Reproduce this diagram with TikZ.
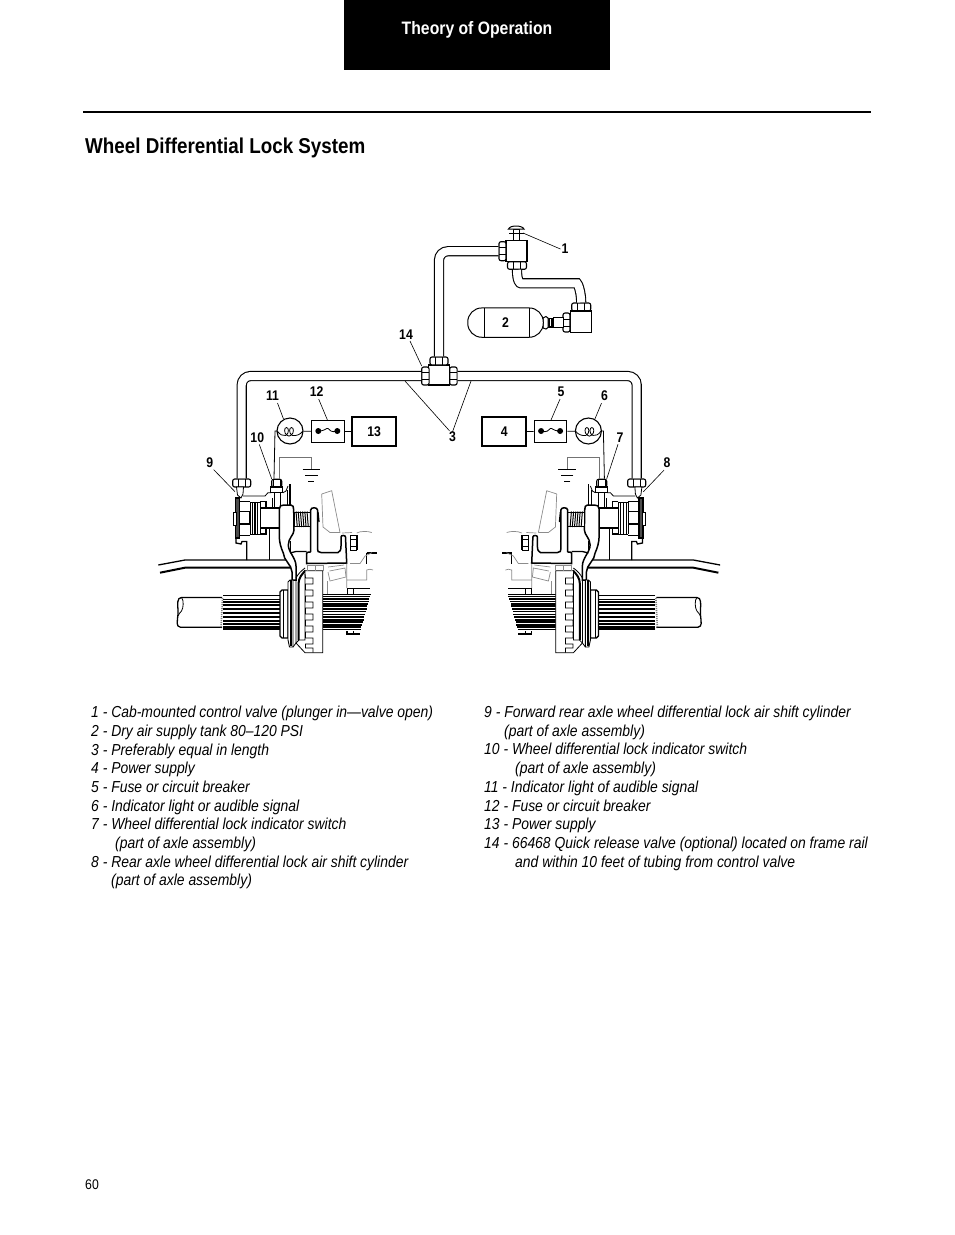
\documentclass[tikz,border=0pt]{standalone}
\usepackage{fontspec}
\setmainfont[FakeStretch=0.875]{Liberation Sans}
\tikzset{
  ln/.style={line width=0.8pt,black},
  med/.style={line width=1.3pt,black},
  thk/.style={line width=2pt,black},
  gry/.style={line width=0.7pt,black!45},
  pipe/.style={double,double distance=8pt,line width=1.1pt,rounded corners=9pt},
  nut/.style={draw,line width=1.1pt,fill=white,rounded corners=2pt,inner sep=0pt},
  nutH/.style={nut,path picture={
    \draw[line width=.8pt] ([xshift=-3.5pt]path picture bounding box.north) -- ([xshift=-3.5pt]path picture bounding box.south);
    \draw[line width=.8pt] ([xshift=3.5pt]path picture bounding box.north) -- ([xshift=3.5pt]path picture bounding box.south);}},
  nutV/.style={nut,path picture={
    \draw[line width=.8pt] ([yshift=-3.5pt]path picture bounding box.west) -- ([yshift=-3.5pt]path picture bounding box.east);
    \draw[line width=.8pt] ([yshift=3.5pt]path picture bounding box.west) -- ([yshift=3.5pt]path picture bounding box.east);}},
  body/.style={draw,line width=1.1pt,fill=white,inner sep=0pt},
  num/.style={font=\bfseries\fontsize{14}{14}\selectfont,inner sep=0pt},
  lead/.style={line width=0.6pt},
  legend/.style={font=\itshape\fontsize{15.9}{16}\selectfont,anchor=base west,inner sep=0pt},
}
% #1 prefix, #2 tee end anchor, #3 box text
\newcommand{\halfside}[3]{%
  % pipe end
  \node[nutH,minimum width=18pt,minimum height=8pt] (#1nut) at (241.7,483) {};
  \draw[pipe] (#1nut.north) |- (#2);
  % electrical
  \node[draw,circle,line width=1.1pt,minimum size=26pt,inner sep=0pt] (#1lamp) at (290,431) {};
  \node[draw,line width=1.1pt,minimum width=32.6pt,minimum height=21.6pt,inner sep=0pt] (#1fuse) at (328,431.5) {};
  \node[draw,line width=1.7pt,minimum width=44pt,minimum height=29pt,inner sep=0pt,num] (#1box) at (374.2,431.3) {#3};
  \draw[ln] (#1lamp) -- (#1fuse);
  \draw[ln] (#1fuse) -- (#1box);
  \fill (318.3,431) circle (3pt) (337.3,431) circle (3pt);
  \draw[ln] (318.3,431) .. controls (326,431) and (326,427.5) .. (328,428.5) .. controls (330,430) and (331,433) .. (337.3,431);
  % filament
  \draw[ln] (277.3,431) .. controls (280,435) and (283,436) .. (286,435.5);
  \draw[ln] (286.5,435) .. controls (284,433) and (284,427.5) .. (286.5,427.5) .. controls (289,427.5) and (289,433) .. (286.5,435) .. controls (288,436.5) and (290,436.5) .. (291.5,435) .. controls (289,433) and (289,427.5) .. (291.5,427.5) .. controls (294,427.5) and (294,433) .. (291.5,435);
  \draw[ln] (292,435.5) .. controls (296,436) and (300,435) .. (303,431);
  \node[nutH,minimum width=10pt,minimum height=8pt] (#1sw) at (276.7,483.2) {};
  \draw[ln] (#1lamp.center) ++(-12.7,0) -- (275,431) -- (#1sw.north -| 274,0);
  \draw[line width=1pt,black!55] (#1sw.north -| 279.3,0) -- (279.3,457.3) -- (311,457.3) -- (311,469.3);
  \draw[med] (302.7,469.3) -- (320,469.3);
  \draw[ln] (305,475) -- (317.7,475);
  \draw[ln] (308,481.7) -- (314.3,481.7);
  \coordinate (#1a9) at (235,491.7);
  \coordinate (#1a10) at (271.7,478.8);
  \coordinate (#1a11) at (283.5,419);
  \coordinate (#1a12) at (327.7,420.7);
  % switch body
  \draw[body] (270.7,487) rectangle (282.7,492.3);
  \draw[ln,fill=white] (274,492.3) rectangle (280,507);
  \draw[ln] (243,496) -- (265,496) -- (268,492.7) -- (271,492.7) (283,492.7) -- (286,491) -- (288,486);
  \draw[med] (290,484) -- (290,506);
  \draw[ln] (287,490) -- (287,506);
  \draw[ln,fill=white] (236.5,487) -- (237.5,495) -- (241,498) -- (243,494) -- (243.5,487) -- cycle;
  % air cylinder
  \draw[line width=1.2pt,fill=black!70] (235.5,498) rectangle (239.5,538);
  \draw[ln,fill=white] (233,512) rectangle (236,525);
  \draw[ln] (240,501) -- (250,501) (240,535) -- (250,535);
  \draw[med] (240,511.7) -- (250,511.7) (240,524) -- (250,524);
  \draw[med] (250,511.7) -- (250,524);
  \draw[ln] (250,502) -- (250,534) (252,502) -- (252,534);
  \draw[ln] (250,502) -- (260,502) -- (260,534.3) -- (250,534.3);
  \draw[line width=1.5pt] (255,502) -- (255,534);
  \draw[ln] (257.8,502) -- (257.8,534);
  \draw[med] (260,501.5) -- (266,501.5) -- (266,507) (260,534) -- (266,534) -- (266,528);
  \draw[med] (260,508) -- (279.3,508) (260,528) -- (279.3,528);
  \draw[ln] (272,498) -- (272,508) (269.5,528) -- (269.5,560);
  % housing flange
  \draw[med] (236,538) -- (236,543) -- (241,544) -- (242,541.5) -- (246.7,541.5) -- (246.7,560);
  % axle beam
  \draw[med] (158.3,565) -- (185,560) -- (287,560);
  \draw[thk] (160,572.7) -- (185,567.7) -- (291.7,567.7);
  % fork lever
  \draw[line width=1.5pt,fill=white] (279.3,536.7) -- (279.3,509) .. controls (279.3,506) and (281,505) .. (284,505) -- (291,505) .. controls (293,505) and (293.7,507) .. (293.7,510) -- (294,530) .. controls (294,535) and (288.3,538) .. (288.3,545) .. controls (288.3,552) and (296,558) .. (296,566) -- (296,580) -- (292,580) -- (292,572) .. controls (292,565) and (283.3,560) .. (283.3,553) .. controls (281,548) and (279.3,542) .. (279.3,536.7);
  % spring
  \draw[ln,fill=white] (294,512) rectangle (310.7,526.7);
  \foreach \sx in {296,298.2,...,309}{\draw[line width=1pt] (\sx,511.5) -- (\sx+1.3,527);}
  % yoke right arm
  \draw[line width=1.5pt,fill=white] (310.7,552) -- (310.7,510) .. controls (310.7,507) and (317.5,507) .. (317.5,510) -- (317.5,549) .. controls (317.5,551.5) and (318,552) .. (321,552.5) -- (338,552.5) .. controls (340,552) and (341,550) .. (341,546) -- (341,537) .. controls (341,535) and (345.5,535) .. (345.5,537) -- (346.7,563) -- (306.7,563.5) -- (306.7,553) .. controls (307,552) and (309,552) .. (310.7,552);
  \draw[med] (318,512) -- (319,522);
  % small pin and stop
  \draw[med] (290,553) -- (296,551.5) -- (306.7,551.5);
  \draw[ln] (290,541) -- (290,551);
  % gray cab linkage
  \draw[gry] (321.7,494) -- (331.7,490.7) -- (340,532.5);
  \draw[gry] (321.7,494) -- (323,527) -- (330,532.5) -- (340,532.5);
  \draw[gry] (342,533) -- (352,532.5) (356.7,533) .. controls (360,531) and (368,531) .. (371.7,532.5);
  \draw[ln] (350,535) rectangle (356,550);
  \draw[ln] (357.5,535) -- (357.5,550) (350,539) -- (356,539) (350,546) -- (356,546);
  \draw[thk] (366.7,552.7) -- (376.7,552.7);
  \draw[ln] (366.7,552.7) -- (366.7,563.5);
  \draw[gry] (350,563.5) -- (360,563.5) -- (365,556) -- (372,552.7);
  \draw[gry] (346.7,563.5) -- (346.7,588) (346.7,580) -- (366.7,580) -- (366.7,570) .. controls (369,569) and (371,569) .. (373,570);
  \draw[gry] (328,567) -- (344,565) (329.5,571) -- (345,568) -- (346,577) -- (330,581) -- (328,572);
  \draw[gry] (327.5,581) -- (327.5,594);
  \draw[ln] (347,594) -- (347,588) -- (370,588) (353,588) -- (353,594);
  % splines, right
  \foreach \yy/\ww in {594.3/1.2,596.5/1.4,599/1.8,601.5/1.9,604/1.3,606.3/2.1,609/1.8,611.7/0.8,614.3/1.2,617/1.6,619.7/2.1,622.3/1.8,624.7/2.1,627.3/1.7,629.7/1.2}{
    \pgfmathsetmacro{\xe}{370.7-(\yy-594)*0.28}
    \draw[line width=\ww pt] (322.7,\yy) -- (\xe,\yy);}
  \draw[med] (347,631) -- (347,634) -- (360,634);
  \draw[ln] (353,631) -- (353,634);
  % shaft
  \draw[med] (222,597.5) -- (181.5,597.5) .. controls (177,597.5) and (177.5,604) .. (178,610) .. controls (178.5,616) and (176,624) .. (178,626) .. controls (179,627.3) and (181,627.3) .. (184,627.3) -- (222,627.3);
  \draw[ln] (181.5,597.5) .. controls (184,600) and (183.5,608) .. (181.5,611) .. controls (180,613) and (178.5,614) .. (178,616);
  \foreach \yy/\ww in {595.7/1.2,599/1,601.7/1.8,605/1.9,609/1.4,612.7/1.9,616.7/1.7,620.7/1.8,624.3/2.1,627.7/2.5,629.3/1}{
    \draw[line width=\ww pt] (223,\yy) -- (280,\yy);}
  \draw[line width=1.6pt,black!50,dash pattern=on 1pt off 1pt] (222.5,598) -- (221,628);
  % hub
  \draw[med,fill=white] (280,592) -- (282,590) -- (288,590) -- (288,638) -- (282,638) -- (280,636) -- cycle;
  \draw[ln] (283,590) -- (283,638);
  \draw[line width=0.9pt,fill=white] (288,582) -- (290,580) -- (293,580) -- (293,647) -- (289.5,647) -- (288,640) -- cycle;
  \draw[line width=2pt] (290.7,580) -- (290.7,646);
  \draw[ln] (296,580) -- (296,643) -- (293,647);
  % gear
  \draw[thk] (298.5,640) -- (298.5,584) .. controls (298.5,578) and (302,574) .. (305.5,570.5);
  \draw[ln] (296,578) .. controls (298,574) and (301,571) .. (305,568);
  \draw[ln,fill=white] (305,570.7) -- (322.7,570.7) -- (322.7,652.7) -- (305,652.7) -- (296,643) -- (299,640) -- (305,640) -- cycle;
  \draw[ln] (305,574) \foreach \ty in {578,590,...,638}{ -- (305.5,\ty) -- (313,\ty) -- (313,\ty+6) -- (305.5,\ty+6)} -- (305.5,648) -- (313,648) -- (313,652.7);
  \draw[gry] (307,565) -- (323,565) -- (323,570.7) (307,570.7) -- (307,565) (315,570.7) -- (315,565);
}
\begin{document}
\begin{tikzpicture}[x=1pt,y=-1pt]
\useasboundingbox (0,0) rectangle (954,1235);
\fill[white] (0,0) rectangle (954,1235);
% header
\node[fill=black,minimum width=266pt,minimum height=70pt,inner sep=0pt,text=white,font=\bfseries\fontsize{18}{20}\selectfont] (hdr) at (477,35) {\raisebox{15pt}{Theory of Operation}};
\coordinate (ruleL) at (83,112);
\coordinate (ruleR) at (871,112);
\draw[line width=2pt] (ruleL) -- (ruleR);
\node[anchor=base west,inner sep=0pt,font=\bfseries\fontsize{21.5}{24}\selectfont] (title) at (85,153) {Wheel Differential Lock System};
% tee
\node[body,minimum width=21pt,minimum height=20pt] (tee) at (439.3,375) {};
\node[nutV,minimum width=7.4pt,minimum height=18pt] (teeL) at (425.4,376) {};
\node[nutV,minimum width=7.4pt,minimum height=18pt] (teeR) at (453.4,376) {};
\node[nutH,minimum width=18pt,minimum height=8pt] (teeT) at (439,361) {};
% control valve
\node[body,minimum width=21pt,minimum height=21pt] (valve) at (516.5,251.2) {};
\node[nutV,minimum width=7pt,minimum height=19pt] (valveL) at (502.5,251.2) {};
\node[nutH,minimum width=19pt,minimum height=7.5pt] (valveB) at (517,265.5) {};
\draw[pipe] (teeT.north) |- (valveL.west);
\draw[line width=1pt,fill=white] (513.5,229) rectangle (519,240.7);
\draw[line width=1.3pt] (509,233.5) -- (524,233.5);
\draw[line width=1pt,fill=white] (508.5,229) .. controls (510,225) and (522,225) .. (524,229) -- cycle;
% tank side
\node[nutH,minimum width=19pt,minimum height=8pt] (tankN) at (581.2,307) {};
\node[body,minimum width=21.7pt,minimum height=21.7pt] (tvalve) at (581,321.8) {};
\node[nutV,minimum width=7pt,minimum height=19pt] (tvalveL) at (566.5,322.5) {};
\draw[pipe] (valveB.south) .. controls +(0,12) and +(-10,0) .. (530,283.3) -- (568,283.3) .. controls +(10,0) and +(0,-10) .. (tankN.north);
\draw[line width=1pt,fill=white] (553,317.5) rectangle (563,327);
\draw[line width=1.7pt] (553,317.5) -- (563,317.5);
\draw[line width=1.2pt,fill=white] (548,318.5) rectangle (553,327);
\draw[line width=0.8pt] (549.5,318.5) -- (549.5,327) (551.5,318.5) -- (551.5,327);
\draw[line width=1pt,fill=white] (543,318) -- (546,316.5) -- (548,318) -- (548,327.5) -- (546,329) -- (543,328) -- cycle;
\node[draw,line width=1pt,rounded corners=14pt,fill=white,minimum width=75.5pt,minimum height=29.3pt,inner sep=0pt,num] (tank) at (505.5,322.6) {2};
\draw[line width=0.8pt] (484,308) -- (484,337.3) (529.3,308) -- (529.3,337.3);
% sides
\halfside{L}{teeL.west}{13}
\begin{scope}[xshift=878.4pt,xscale=-1]
\halfside{R}{teeR.east}{4}
\end{scope}
% callouts
\node[num] (n1) at (565,249) {1};
\node[num] (n14) at (406,335) {14};
\node[num] (n3) at (452.5,437) {3};
\node[num] (n11) at (272.5,396) {11};
\node[num] (n12) at (316.7,392) {12};
\node[num] (n10) at (257.3,437.3) {10};
\node[num] (n9) at (209.7,462.5) {9};
\node[num] (n5) at (561,392) {5};
\node[num] (n6) at (604.5,396) {6};
\node[num] (n7) at (620,437.3) {7};
\node[num] (n8) at (667,463) {8};
\coordinate (a1) at (523,233);
\coordinate (a14) at (421.7,366);
\coordinate (a3l) at (405,381);
\coordinate (a3r) at (471,381);
\draw[lead] (n1.west) ++(-1,0) -- (a1);
\draw[lead] (n14.south) ++(4,1) -- (a14);
\draw[lead] (n3.north) ++(-3,-1) -- (a3l);
\draw[lead] (n3.north) -- (a3r);
\draw[lead] (n11.south) ++(5,2) -- (La11);
\draw[lead] (n12.south) ++(2,2) -- (La12);
\draw[lead] (n10.south) ++(2,2) -- (La10);
\draw[lead] (n9.south) ++(4,2) -- (La9);
\draw[lead] (n5.south) ++(-1,2) -- (Ra12);
\draw[lead] (n6.south) ++(-3,2) -- (Ra11);
\draw[lead] (n7.south) ++(-2,2) -- (Ra10);
\draw[lead] (n8.south) ++(-3,2) -- (Ra9);
% legend left
\node[legend] (a) at (91,717) {1 - Cab-mounted control valve (plunger in—valve open)};
\node[legend] (b) at (91,736) {2 - Dry air supply tank 80–120 PSI};
\node[legend] (c) at (91,755) {3 - Preferably equal in length};
\node[legend] (d) at (91,773) {4 - Power supply};
\node[legend] (e) at (91,792) {5 - Fuse or circuit breaker};
\node[legend] (f) at (91,811) {6 - Indicator light or audible signal};
\node[legend] (g) at (91,829) {7 - Wheel differential lock indicator switch};
\node[legend] (h) at (115,848) {(part of axle assembly)};
\node[legend] (i) at (91,867) {8 - Rear axle wheel differential lock air shift cylinder};
\node[legend] (j) at (111,885) {(part of axle assembly)};
% legend right
\node[legend] (k) at (484,717) {9 - Forward rear axle wheel differential lock air shift cylinder};
\node[legend] (l) at (504,736) {(part of axle assembly)};
\node[legend] (m) at (484,754) {10 - Wheel differential lock indicator switch};
\node[legend] (o) at (515,773) {(part of axle assembly)};
\node[legend] (p) at (484,792) {11 - Indicator light of audible signal};
\node[legend] (q) at (484,811) {12 - Fuse or circuit breaker};
\node[legend] (r) at (484,829) {13 - Power supply};
\node[legend] (s) at (484,848) {14 - 66468 Quick release valve (optional) located on frame rail};
\node[legend] (t) at (515,867) {and within 10 feet of tubing from control valve};
\node[anchor=base west,inner sep=0pt,font=\fontsize{14}{16}\selectfont] (pg) at (85,1189) {60};
\end{tikzpicture}
\end{document}
